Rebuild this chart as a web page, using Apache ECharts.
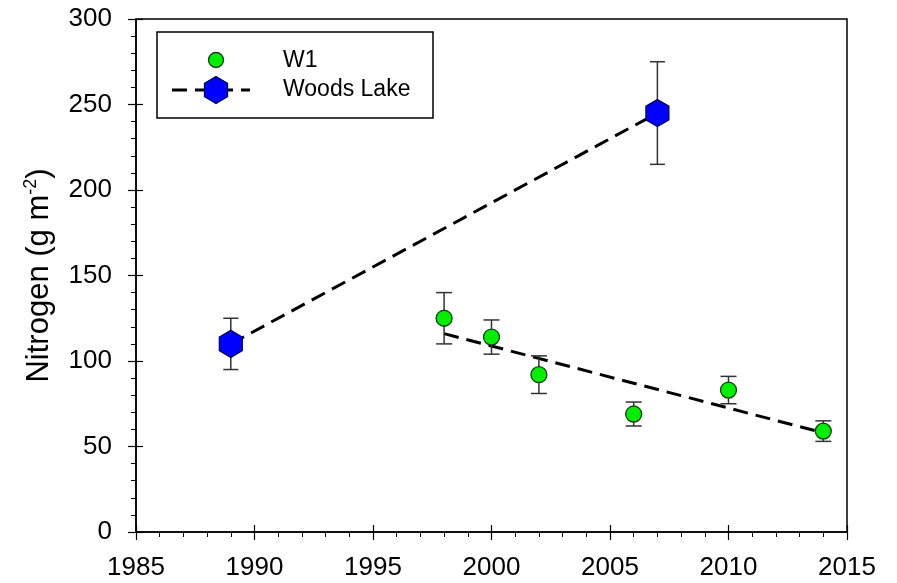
<!DOCTYPE html>
<html>
<head>
<meta charset="utf-8">
<script src="https://cdn.jsdelivr.net/npm/echarts@6/dist/echarts.min.js"></script>
<style>html,body{margin:0;padding:0;background:#fff}#main{width:897px;height:583px}</style>
</head>
<body>
<div id="main"></div>
<script>
// ---- data ----
var w1Years = [1998, 2000, 2002, 2006, 2010, 2014];
var w1Values = [125, 114, 92, 69, 83, 59];
var w1ErrLow = [110, 104, 81, 62, 75, 53];
var w1ErrHigh = [140, 124, 103, 76, 91, 65];
var woodsYears = [1989, 2007];
var woodsValues = [110, 245];
var woodsErrLow = [95, 215];
var woodsErrHigh = [125, 275];
var w1FitYears = [1998, 2014];
var w1FitValues = [116, 58];
var woodsFitYears = [1989, 2007];
var woodsFitValues = [110, 245];
var legendNames = ['W1', 'Woods Lake'];

var hexPath = 'path://M0,-1 L0.866,-0.5 L0.866,0.5 L0,1 L-0.866,0.5 L-0.866,-0.5 Z';
var FONT = 'Arial, "Liberation Sans", sans-serif';

function pairs(xs, ys) { return xs.map(function (x, i) { return [x, ys[i]]; }); }
function errData(xs, lo, hi) { return xs.map(function (x, i) { return [x, lo[i], hi[i]]; }); }
function errRender(capW) {
  return function (params, api) {
    var x = api.value(0);
    var lo = api.coord([x, api.value(1)]);
    var hi = api.coord([x, api.value(2)]);
    var st = { stroke: '#333', lineWidth: 1.5 };
    return {
      type: 'group',
      children: [
        { type: 'line', shape: { x1: lo[0], y1: lo[1], x2: hi[0], y2: hi[1] }, style: st },
        { type: 'line', shape: { x1: lo[0] - capW / 2, y1: lo[1], x2: lo[0] + capW / 2, y2: lo[1] }, style: st },
        { type: 'line', shape: { x1: hi[0] - capW / 2, y1: hi[1], x2: hi[0] + capW / 2, y2: hi[1] }, style: st }
      ]
    };
  };
}

var chart = echarts.init(document.getElementById('main'), null, { renderer: 'canvas' });
var axisLine = { lineStyle: { color: '#000', width: 1.5 } };
var option = {
  animation: false,
  backgroundColor: '#fff',
  grid: { left: 136, right: 50, top: 19, bottom: 51, show: true, borderColor: '#000', borderWidth: 1.5, backgroundColor: 'transparent' },
  xAxis: [{
    type: 'value', min: 1985, max: 2015, interval: 5,
    axisLine: axisLine,
    axisTick: { show: true, length: 8, lineStyle: { color: '#000', width: 1.2 } },
    minorTick: { show: true, splitNumber: 5, length: 5, lineStyle: { color: '#000', width: 1 } },
    splitLine: { show: false },
    axisLabel: { color: '#000', fontSize: 26, fontFamily: FONT, margin: 23, formatter: function (v) { return String(v); } }
  }, {
    type: 'value', min: 1985, max: 2015, interval: 5, position: 'bottom',
    axisLine: { show: false },
    axisTick: { show: true, inside: true, length: 7, lineStyle: { color: '#000', width: 1.2 } },
    axisLabel: { show: false }, splitLine: { show: false }
  }],
  yAxis: [{
    type: 'value', min: 0, max: 300, interval: 50,
    axisLine: axisLine,
    axisTick: { show: true, length: 8, lineStyle: { color: '#000', width: 1.2 } },
    minorTick: { show: true, splitNumber: 5, length: 5, lineStyle: { color: '#000', width: 1 } },
    splitLine: { show: false },
    axisLabel: { color: '#000', fontSize: 26, fontFamily: FONT, margin: 24 },
    name: '{b|Nitrogen (g m}{s|-2}{b|)}',
    nameLocation: 'middle', nameGap: 79, nameRotate: 90,
    nameTextStyle: {
      rich: {
        b: { fontSize: 31, fontFamily: FONT, color: '#000', lineHeight: 36 },
        s: { fontSize: 18, fontFamily: FONT, color: '#000', lineHeight: 36, padding: [0, 0, 15, 0] }
      }
    }
  }, {
    type: 'value', min: 0, max: 300, interval: 50, position: 'left',
    axisLine: { show: false },
    axisTick: { show: true, inside: true, length: 7, lineStyle: { color: '#000', width: 1.2 } },
    axisLabel: { show: false }, splitLine: { show: false }
  }],
  series: [
    {
      name: 'W1 fit', type: 'line', data: pairs(w1FitYears, w1FitValues), symbol: 'none',
      lineStyle: { color: '#000', width: 3, type: [15, 8] }, z: 2
    },
    {
      name: 'Woods fit', type: 'line', data: pairs(woodsFitYears, woodsFitValues), symbol: 'none',
      lineStyle: { color: '#000', width: 3, type: [15, 8] }, z: 2
    },
    {
      name: 'W1 err', type: 'custom', renderItem: errRender(16), data: errData(w1Years, w1ErrLow, w1ErrHigh), z: 3
    },
    {
      name: 'Woods err', type: 'custom', renderItem: errRender(15), data: errData(woodsYears, woodsErrLow, woodsErrHigh), z: 3
    },
    {
      name: legendNames[0], type: 'scatter', data: pairs(w1Years, w1Values), symbol: 'circle', symbolSize: 16,
      itemStyle: { color: '#00ee00', borderColor: '#1a3a1a', borderWidth: 1.3, opacity: 1 }, z: 5
    },
    {
      name: legendNames[1], type: 'scatter', data: pairs(woodsYears, woodsValues), symbol: hexPath, symbolSize: [23, 27],
      itemStyle: { color: '#0000ff', borderColor: '#00005a', borderWidth: 1.3, opacity: 1 }, z: 5
    }
  ],
  graphic: [
    { type: 'rect', shape: { x: 157, y: 32, width: 276, height: 86 }, style: { fill: '#fff', stroke: '#000', lineWidth: 1.5 }, z: 10 },
    { type: 'circle', shape: { cx: 216, cy: 60, r: 7.5 }, style: { fill: '#00ee00', stroke: '#1a3a1a', lineWidth: 1.3 }, z: 11 },
    { type: 'line', shape: { x1: 172, y1: 90, x2: 250, y2: 90 }, style: { stroke: '#000', lineWidth: 3, lineDash: [15, 8] }, z: 11 },
    { type: 'polygon', shape: { points: [[216, 76.5], [227.5, 83.25], [227.5, 96.75], [216, 103.5], [204.5, 96.75], [204.5, 83.25]] }, style: { fill: '#0000ff', stroke: '#00005a', lineWidth: 1.3 }, z: 12 },
    { type: 'text', x: 283, y: 61, style: { text: legendNames[0], font: '23px ' + FONT, fill: '#000', verticalAlign: 'middle' }, z: 11 },
    { type: 'text', x: 283, y: 90, style: { text: legendNames[1], font: '23px ' + FONT, fill: '#000', verticalAlign: 'middle' }, z: 11 }
  ]
};
chart.setOption(option);
</script>
</body>
</html>
